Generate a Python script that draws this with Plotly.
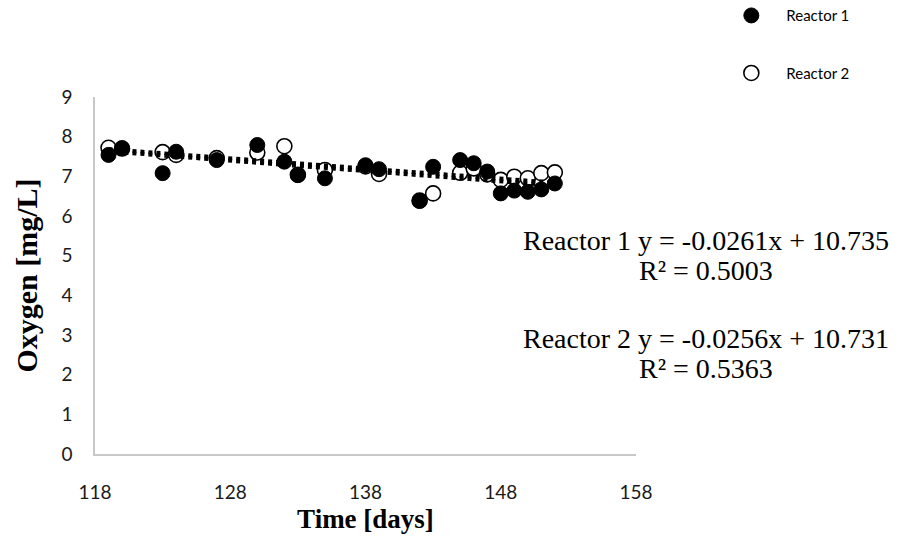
import plotly.graph_objects as go

# Data
days_r1 = [119, 120, 123, 124, 127, 130, 132, 133, 135, 138, 139, 142, 143, 145, 146, 147, 148, 149, 150, 151, 152]
oxy_r1 = [7.54, 7.71, 7.08, 7.62, 7.41, 7.79, 7.37, 7.03, 6.95, 7.28, 7.18, 6.38, 7.24, 7.41, 7.33, 7.12, 6.57, 6.64, 6.61, 6.67, 6.82]
days_r2 = [119, 120, 123, 124, 127, 130, 132, 133, 135, 138, 139, 142, 143, 145, 146, 147, 148, 149, 150, 151, 152]
oxy_r2 = [7.72, 7.70, 7.61, 7.54, 7.46, 7.60, 7.76, 7.04, 7.16, 7.25, 7.06, 6.39, 6.57, 7.09, 7.20, 7.05, 6.91, 6.99, 6.95, 7.08, 7.10]

# Trendline coefficients as printed on the chart
slope_r1, intercept_r1, r2_r1 = -0.0261, 10.735, 0.5003
slope_r2, intercept_r2, r2_r2 = -0.0256, 10.731, 0.5363

x_ticks = [118, 128, 138, 148, 158]
y_ticks = [0, 1, 2, 3, 4, 5, 6, 7, 8, 9]

tick_font = dict(family="Lato, Open Sans, sans-serif", size=19, color="#1a1a1a")
serif = "Liberation Serif, Times New Roman, serif"

fig = go.Figure()
# open markers drawn first (below), filled on top
fig.add_trace(go.Scatter(
    x=days_r2, y=oxy_r2, mode="markers", name="Reactor 2", legendrank=2, legendgroup="b",
    marker=dict(symbol="circle", size=15, color="white", line=dict(color="black", width=1.6)),
))
fig.add_trace(go.Scatter(
    x=days_r1, y=oxy_r1, mode="markers", name="Reactor 1", legendrank=1, legendgroup="a",
    marker=dict(symbol="circle", size=15, color="black", line=dict(color="black", width=1)),
))

tx = [min(days_r1), max(days_r1)]
fig.add_trace(go.Scatter(
    x=tx, y=[intercept_r1 + slope_r1 * v for v in tx], mode="lines", showlegend=False,
    line=dict(color="black", width=4, dash="dot"), hoverinfo="skip",
))
tx2 = [min(days_r2), max(days_r2)]
fig.add_trace(go.Scatter(
    x=tx2, y=[intercept_r2 + slope_r2 * v for v in tx2], mode="lines", showlegend=False,
    line=dict(color="black", width=4, dash="dot"), hoverinfo="skip",
))

ann_font = dict(family=serif, size=28, color="black")
# plot area: 541 px wide, 357 px tall; positions converted to paper fractions
def py(pix):
    return (454 - pix) / 357.0
cx = (706 - 95) / 541.0
for text, ypix in [
    (f"Reactor 1 y = {slope_r1}x + {intercept_r1}", 240),
    (f"R² = {r2_r1}", 270),
    (f"Reactor 2 y = {slope_r2}x + {intercept_r2}", 338),
    (f"R² = {r2_r2}", 368),
]:
    fig.add_annotation(
        xref="paper", yref="paper", x=cx, y=py(ypix), xanchor="center", yanchor="middle",
        text=text, showarrow=False, font=ann_font,
    )

fig.update_layout(
    width=899, height=542,
    margin=dict(l=95, r=263, t=97, b=88, autoexpand=False),
    paper_bgcolor="white", plot_bgcolor="white",
    showlegend=True,
    legend=dict(
        x=1.1485, y=1.274, xanchor="left", yanchor="top",
        font=dict(family="Lato, Open Sans, sans-serif", size=15, color="black"),
        tracegroupgap=35, itemwidth=60, bgcolor="rgba(0,0,0,0)",
        traceorder="grouped",
    ),
    xaxis=dict(
        range=[118, 158], tickvals=x_ticks, ticktext=[str(v) for v in x_ticks],
        showgrid=False, zeroline=False, showline=True, linecolor="#c8c8c8", linewidth=1.5,
        ticks="", tickfont=tick_font, ticklabelstandoff=20,
        title=dict(text="<b>Time [days]</b>", font=dict(family=serif, size=27, color="black"), standoff=8),
    ),
    yaxis=dict(
        range=[0, 9], tickvals=y_ticks, ticktext=[str(v) for v in y_ticks],
        showgrid=False, zeroline=False, showline=True, linecolor="#c8c8c8", linewidth=1.5,
        ticks="", tickfont=tick_font, ticklabelstandoff=17,
        title=dict(text="<b>Oxygen [mg/L]</b>", font=dict(family=serif, size=30, color="black"), standoff=15),
    ),
)

fig.write_html("out.html")
